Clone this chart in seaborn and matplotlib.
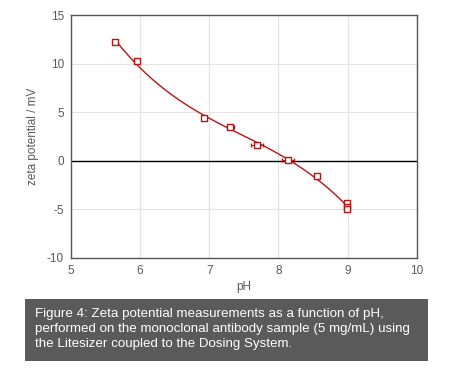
import matplotlib
matplotlib.use("Agg")
import matplotlib.pyplot as plt
from matplotlib.patches import Rectangle
import seaborn as sns
import pandas as pd

# data
ph = [5.64, 5.95, 6.93, 7.30, 7.69, 8.14, 8.56, 8.99, 8.99, 8.99]
zeta = [12.2, 10.3, 4.4, 3.5, 1.6, 0.1, -1.55, -4.4, -4.75, -5.0]
ph_err = [0.02, 0.02, 0.02, 0.05, 0.08, 0.09, 0.02, 0.01, 0.01, 0.01]
x_ticks = [5, 6, 7, 8, 9, 10]
y_ticks = [-10, -5, 0, 5, 10, 15]
caption = ("Figure 4: Zeta potential measurements as a function of pH,\n"
           "performed on the monoclonal antibody sample (5 mg/mL) using\n"
           "the Litesizer coupled to the Dosing System.")

sns.set_style("white")
plt.rcParams['font.family'] = ['Liberation Sans', 'DejaVu Sans']
plt.rcParams['axes.unicode_minus'] = False

df = pd.DataFrame({"pH": ph, "zeta": zeta, "err": ph_err})

fig = plt.figure(figsize=(4.58, 3.77), dpi=100)
ax = fig.add_axes([0.155, 0.316, 0.755, 0.644])

red = "#b81414"
gray = "#595959"

ax.grid(True, color="#e3e3e3", linewidth=0.8)
ax.set_axisbelow(True)
ax.axhline(0, color="black", linewidth=1.0, zorder=2)

sns.regplot(data=df, x="pH", y="zeta", order=3, ci=None, scatter=False,
            ax=ax, line_kws=dict(color=red, linewidth=1.0, zorder=3))
ax.errorbar(df["pH"], df["zeta"], xerr=df["err"], fmt="none",
            ecolor=red, elinewidth=0.7, capsize=1.5, zorder=4)
sns.scatterplot(data=df, x="pH", y="zeta", ax=ax, marker="s", s=18,
                facecolor="white", edgecolor=red, linewidth=1.0, zorder=5)

ax.set_xlim(5, 10)
ax.set_ylim(-10, 15)
ax.set_xticks(x_ticks)
ax.set_yticks(y_ticks)
ax.tick_params(axis="both", labelsize=8.5, labelcolor=gray, length=0, pad=5)
ax.set_xlabel("pH", fontsize=8.5, color=gray, labelpad=3)
ax.set_ylabel("zeta potential / mV", fontsize=8.5, color=gray, labelpad=6)
for side in ["left", "bottom", "top", "right"]:
    ax.spines[side].set_color("#555555")
    ax.spines[side].set_linewidth(1.0)

fig.patches.append(Rectangle((25 / 458, 1 - 361 / 377), (428 - 25) / 458,
                             (361 - 299) / 377, transform=fig.transFigure,
                             facecolor="#5a5a5a", edgecolor="none"))
fig.text(35 / 458, 1 - 308 / 377, caption, color="white", fontsize=9.6,
         va="top", ha="left", linespacing=1.32)

fig.savefig("out.png", dpi=100)
